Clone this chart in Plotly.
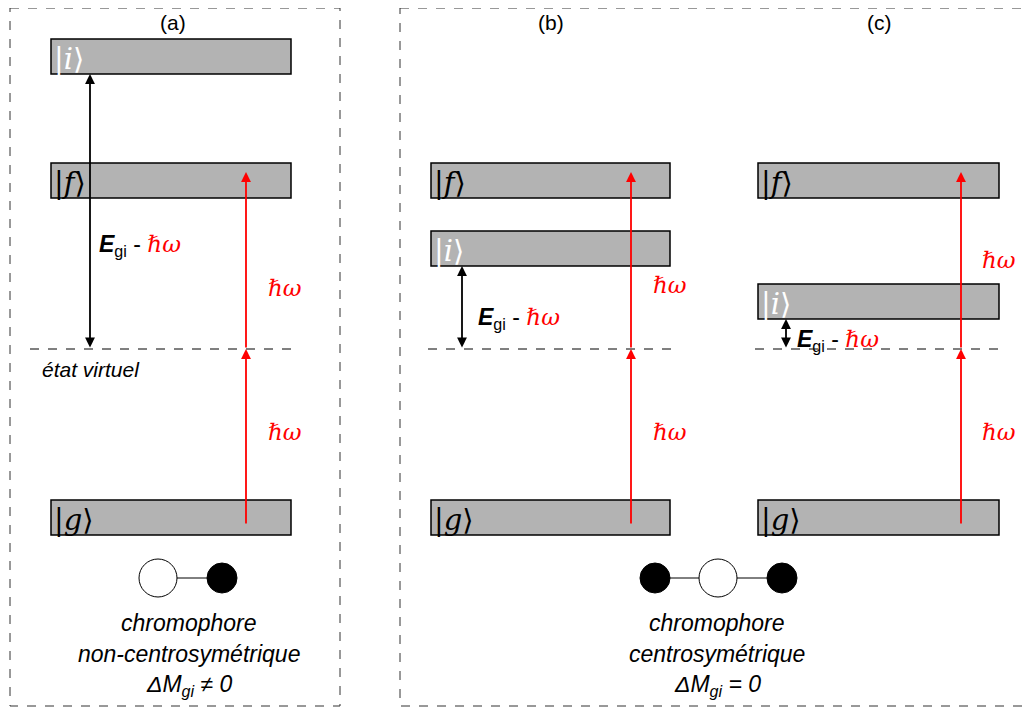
import plotly.graph_objects as go

# ---- diagram data (pixel-like coordinates, y grows downward) ----
panel_labels = ["(a)", "(b)", "(c)"]
panel_label_x = [173, 551, 879]
level_x0 = [51, 431, 758]
level_x1 = [291, 670, 999]
level_f = [163, 163, 163]
level_i = [39, 231, 284]
level_g = [500, 500, 500]
level_h = 35
virtual_y = 349
black_arrow_x = [90, 462, 786]
red_arrow_x = [246, 631, 961]
hw_label_x = [285, 670, 999]
hw_upper_y = [288, 285, 260]
hw_lower_y = [432, 432, 432]
egi_label_xy = [(97, 245), (476, 318), (795, 340)]

fig = go.Figure()
shapes = []
ann = []

GREY = "#b3b3b3"
RED = "#ff0000"

# dashed frames
shapes.append(dict(type="rect", x0=10, x1=340, y0=8, y1=706,
                   line=dict(color="#333", width=1, dash="dash")))
shapes.append(dict(type="rect", x0=400, x1=1028, y0=8, y1=706,
                   line=dict(color="#333", width=1, dash="dash")))

for k in range(3):
    x0, x1 = level_x0[k], level_x1[k]
    for name, yy in (("f", level_f[k]), ("i", level_i[k]), ("g", level_g[k])):
        shapes.append(dict(type="rect", x0=x0, x1=x1, y0=yy, y1=yy + level_h,
                           fillcolor=GREY, line=dict(color="black", width=1.5), layer="below"))
        col = "white" if name == "i" else "black"
        ann.append(dict(x=x0 + 1, y=yy + level_h / 2 + 2, xanchor="left", yanchor="middle",
                        text="|<i>%s</i>⟩" % name, showarrow=False,
                        font=dict(family="DejaVu Serif", size=29, color=col)))
    # virtual level
    vx0 = 30 if k == 0 else x0 - 3
    shapes.append(dict(type="line", x0=vx0, x1=x1 + 3, y0=virtual_y, y1=virtual_y,
                       line=dict(color="black", width=1, dash="dash")))
    # panel label
    ann.append(dict(x=panel_label_x[k], y=22, text=panel_labels[k], showarrow=False,
                    font=dict(family="Liberation Sans", size=21, color="black")))
    # black arrow (E_gi - hw)
    bx = black_arrow_x[k]
    ann.append(dict(x=bx, y=level_i[k] + level_h, ax=bx, ay=virtual_y, axref="x", ayref="y",
                    xref="x", yref="y", text="", showarrow=True, arrowhead=2, arrowsize=1.1,
                    arrowwidth=1.8, arrowcolor="black", arrowside="end+start", standoff=0,
                    startstandoff=0))
    # red photon arrows
    rx = red_arrow_x[k]
    ann.append(dict(x=rx, y=virtual_y, ax=rx, ay=level_g[k] + 25, axref="x", ayref="y",
                    text="", showarrow=True, arrowhead=2, arrowsize=1.1, arrowwidth=1.8,
                    arrowcolor=RED, standoff=0))
    ann.append(dict(x=rx, y=level_f[k] + 9, ax=rx, ay=virtual_y, axref="x", ayref="y",
                    text="", showarrow=True, arrowhead=2, arrowsize=1.1, arrowwidth=1.8,
                    arrowcolor=RED, standoff=0))
    for yy in (hw_upper_y[k], hw_lower_y[k]):
        ann.append(dict(x=hw_label_x[k], y=yy, text="<i>ℏω</i>", showarrow=False,
                        font=dict(family="DejaVu Serif", size=23, color=RED)))
    ex, ey = egi_label_xy[k]
    ann.append(dict(x=ex, y=ey, xanchor="left", yanchor="middle", showarrow=False,
                    text="<b><i>E</i></b><sub>gi</sub> - <span style='color:#ff0000;font-family:DejaVu Serif'><i>ℏω</i></span>",
                    font=dict(family="Liberation Sans", size=23, color="black")))

ann.append(dict(x=91, y=369, text="<i>état virtuel</i>", showarrow=False,
                font=dict(family="Liberation Sans", size=21, color="black")))

# chromophores
def circ(cx, cy, r, filled):
    shapes.append(dict(type="circle", x0=cx - r, x1=cx + r, y0=cy - r, y1=cy + r,
                       fillcolor="black" if filled else "white",
                       line=dict(color="black", width=1)))

shapes.append(dict(type="line", x0=158, x1=222, y0=578, y1=578, line=dict(color="black", width=1)))
circ(158, 578, 19, False)
circ(222, 578, 15, True)
shapes.append(dict(type="line", x0=655, x1=782, y0=578, y1=578, line=dict(color="black", width=1)))
circ(655, 578, 15, True)
circ(718, 578, 19, False)
circ(782, 578, 15, True)

caption_a = ["chromophore", "non-centrosymétrique", "<i>ΔM</i><sub>gi</sub> ≠ 0"]
caption_b = ["chromophore", "centrosymétrique", "<i>ΔM</i><sub>gi</sub> = 0"]
cap_y = [623, 654, 685]
for cx, cap in ((189, caption_a), (717, caption_b)):
    for t, yy in zip(cap, cap_y):
        ann.append(dict(x=cx, y=yy, text="<i>%s</i>" % t, showarrow=False,
                        font=dict(family="Liberation Sans", size=23, color="black")))

# the page body has an 8px margin: size the figure and axes so that
# data coordinates coincide with window pixels
fig.update_layout(
    width=1023, height=700, margin=dict(l=0, r=0, t=0, b=0),
    plot_bgcolor="white", paper_bgcolor="white",
    xaxis=dict(range=[8, 1031], visible=False, fixedrange=True),
    yaxis=dict(range=[708, 8], visible=False, fixedrange=True),
    shapes=shapes, annotations=ann, showlegend=False,
)
fig.write_html("out.html")
